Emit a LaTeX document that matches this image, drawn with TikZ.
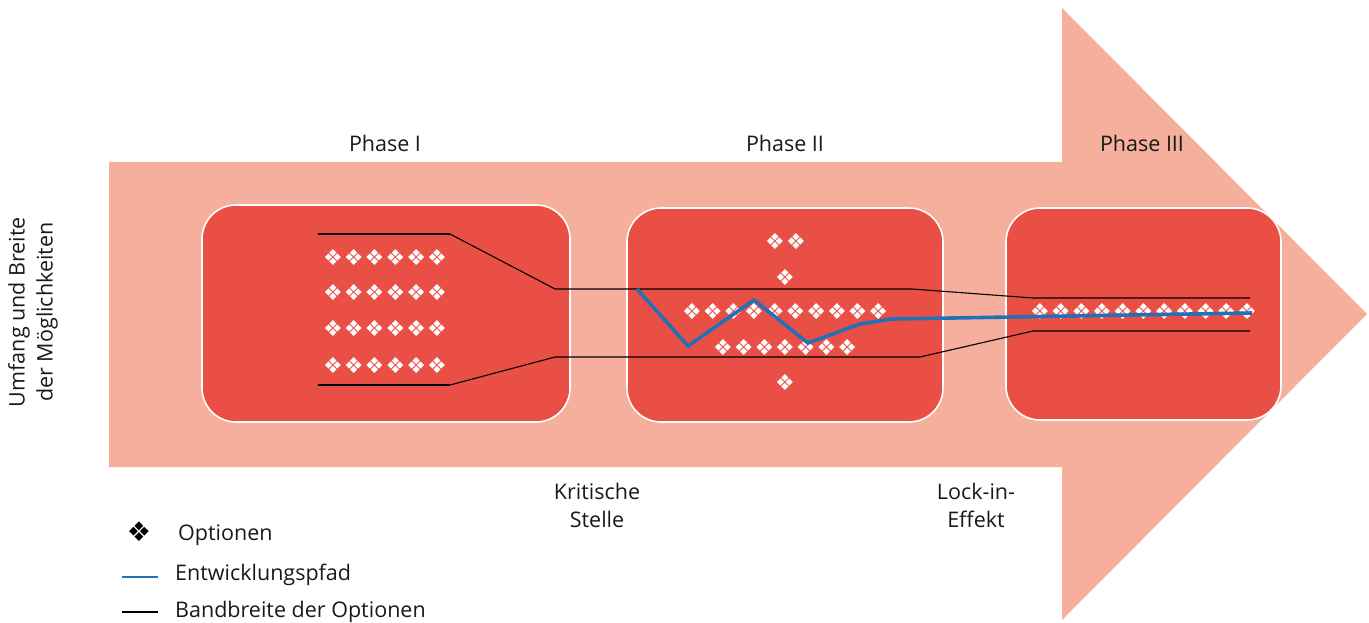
\documentclass[tikz,border=0pt]{standalone}
\usepackage{fontspec}
\setmainfont{Open Sans}
\newfontfamily\symfont{DejaVu Sans}
\definecolor{arrowc}{HTML}{F5AF9C}
\definecolor{boxc}{HTML}{E94F45}
\definecolor{pathc}{HTML}{2271B8}
\tikzset{
  lbl/.style={font=\fontsize{21.5}{28}\selectfont, text=black!90, align=center, inner sep=0pt},
  phasebox/.style={draw=white, line width=1.6pt, fill=boxc, rounded corners=34pt},
  opt/.style={font=\symfont\fontsize{22}{22}\selectfont, text=white, inner sep=0pt},
  band/.style={draw=black, line width=1.1pt},
  devpath/.style={draw=pathc, line width=3.6pt, line join=miter},
}
\begin{document}
\begin{tikzpicture}[x=1pt,y=-1pt]
\useasboundingbox (0,0) rectangle (1369,623);
% big arrow
\fill[arrowc] (109,162) -- (1062,162) -- (1062,8) -- (1367,314) -- (1062,620) -- (1062,467) -- (109,467) -- cycle;
% boxes
\path[phasebox] (202,205) rectangle (570,422);
\path[phasebox] (627,208) rectangle (943,422);
\path[phasebox] (1006,208) rectangle (1281,420);
% option symbols box 1
\foreach \y in {258,293,329,366}{
  \foreach \i in {0,...,5}{
    \node[opt] at (333+20.8*\i,\y) {❖};
  }
}
% box 2
\node[opt] at (775,242) {❖};
\node[opt] at (796,242) {❖};
\node[opt] at (785,278) {❖};
\foreach \i in {0,...,9}{ \node[opt] at (692+20.7*\i,312) {❖}; }
\foreach \i in {0,...,6}{ \node[opt] at (723+20.7*\i,348) {❖}; }
\node[opt] at (785,383) {❖};
% box 3
\foreach \i in {0,...,10}{ \node[opt] at (1040+20.7*\i,312) {❖}; }
% band lines
\draw[band, line width=1.6pt] (318,234) -- (450,234);
\draw[band] (450,234) -- (555,289) -- (912,289) -- (1033,298) -- (1250,298);
\draw[band, line width=1.6pt] (318,385) -- (450,385);
\draw[band] (450,385) -- (555,357) -- (920,357) -- (1033,331) -- (1250,331);
% development path
\draw[devpath] (637,289) -- (688,346) -- (754,300) -- (808,343) -- (860,324) -- (892,319) -- (1252,313);
% phase labels
\node[lbl] (p1) at (385,143) {Phase I};
\node[lbl] (p2) at (785,143) {Phase II};
\node[lbl] (p3) at (1142,143) {Phase III};
\node[lbl] (ks) at (597,505) {Kritische\\Stelle};
\node[lbl] (li) at (976,505) {Lock-in-\\Effekt};
\node[lbl, rotate=90] (ax) at (33,312) {Umfang und Breite\\der Möglichkeiten};
% legend
\node[opt, text=black, font=\symfont\fontsize{27}{27}\selectfont] (ls) at (139,532) {❖};
\node[lbl, anchor=west] (lo) at (178,535) {Optionen};
\coordinate (lb1) at (122,577);
\coordinate (lb2) at (158,577);
\draw[draw=pathc, line width=2.6pt] (lb1) -- (lb2);
\node[lbl, anchor=west] (le) at (175,575) {Entwicklungspfad};
\coordinate (lk1) at (122,612);
\coordinate (lk2) at (158,612);
\draw[draw=black, line width=2.6pt] (lk1) -- (lk2);
\node[lbl, anchor=west] (lw) at (175,612) {Bandbreite der Optionen};
\end{tikzpicture}
\end{document}
